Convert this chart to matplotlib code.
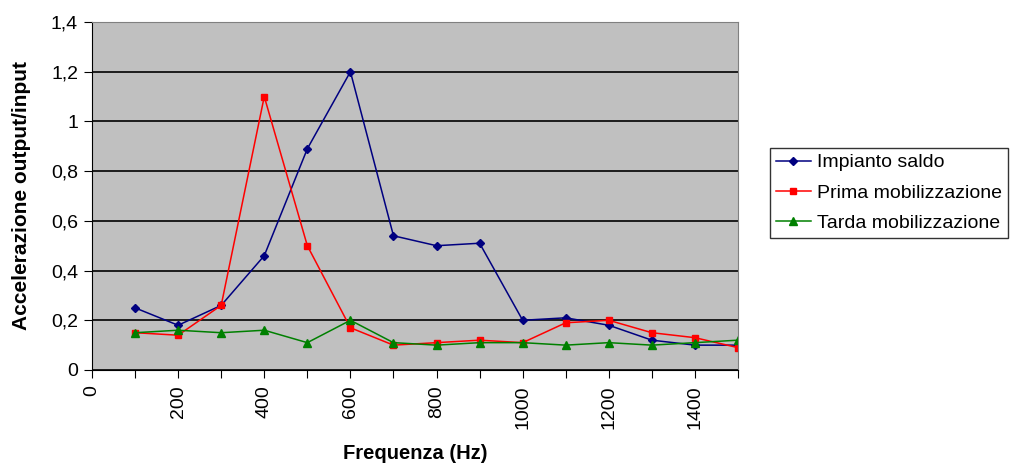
import numpy as np
import matplotlib.pyplot as plt
from matplotlib.ticker import FuncFormatter, MultipleLocator

plt.rcParams['font.family'] = ['Liberation Sans', 'DejaVu Sans']

freq = [100, 200, 300, 400, 500, 600, 700, 800, 900, 1000, 1100, 1200, 1300, 1400, 1500]
impianto = [0.25, 0.18, 0.26, 0.46, 0.89, 1.20, 0.54, 0.50, 0.51, 0.20, 0.21, 0.18, 0.12, 0.10, 0.10]
prima = [0.15, 0.14, 0.26, 1.10, 0.50, 0.17, 0.10, 0.11, 0.12, 0.11, 0.19, 0.20, 0.15, 0.13, 0.09]
tarda = [0.15, 0.16, 0.15, 0.16, 0.11, 0.20, 0.11, 0.10, 0.11, 0.11, 0.10, 0.11, 0.10, 0.11, 0.12]

fig = plt.figure(figsize=(10.13, 4.67), dpi=100)
ax = fig.add_axes([92 / 1013, 1 - 370 / 467, (738 - 92) / 1013, (370 - 22) / 467])
ax.set_facecolor('#C0C0C0')

ax.plot(freq, impianto, color='#000080', marker='D', markersize=4, lw=1.1, label='Impianto saldo')
ax.plot(freq, prima, color='#FF0000', marker='s', markersize=5, lw=1.1, label='Prima mobilizzazione')
ax.plot(freq, tarda, color='#008000', marker='^', markersize=6, lw=1.1, label='Tarda mobilizzazione')

ax.set_xlim(0, 1500)
ax.set_ylim(0, 1.4)
ax.xaxis.set_major_locator(MultipleLocator(100))
ax.xaxis.set_major_formatter(FuncFormatter(lambda v, p: f'{int(v)}' if int(round(v)) % 200 == 0 and v < 1500 else ''))
ax.yaxis.set_major_locator(MultipleLocator(0.2))
ax.yaxis.set_major_formatter(FuncFormatter(lambda v, p: f'{v:g}'.replace('.', ',')))
ax.grid(axis='y', color='black', lw=1.2)
ax.set_axisbelow(True)
ax.tick_params(axis='x', labelrotation=90, direction='out', length=6, labelsize=14, pad=5)
ax.tick_params(axis='y', direction='out', length=6, labelsize=14, pad=4)
for s in ['top', 'right']:
    ax.spines[s].set_color('#808080')
ax.set_xlabel('Frequenza (Hz)', fontweight='bold', fontsize=14.5)
ax.set_ylabel('Accelerazione output/input', fontweight='bold', fontsize=15)
ax.xaxis.set_label_coords(0.5, (370 - 444) / 348)
ax.yaxis.set_label_coords((31 - 92) / 646, 0.5)

leg = fig.legend(loc='upper left', bbox_to_anchor=(770 / 1013, 1 - 148 / 467), fontsize=14,
                 frameon=True, fancybox=False, edgecolor='black', handlelength=1.8,
                 handletextpad=0.3, borderpad=0.3, labelspacing=0.65, borderaxespad=0)
leg.get_frame().set_linewidth(1)

fig.savefig('out.png', dpi=100)
